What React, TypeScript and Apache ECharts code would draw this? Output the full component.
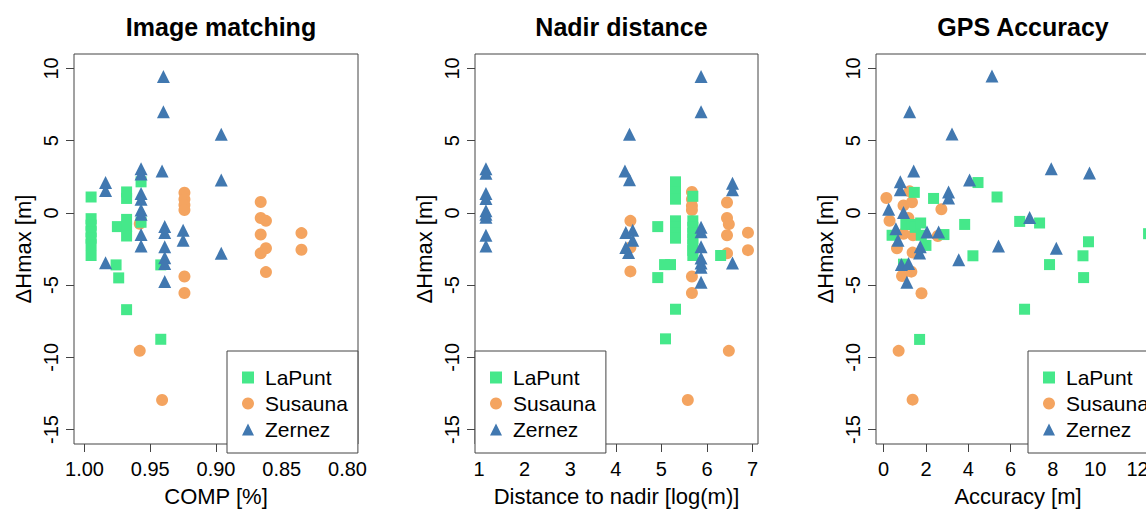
import React, { useEffect, useRef } from "react";
import * as echarts from "echarts";

// ---------- data ----------
const titles = ["Image matching", "Nadir distance", "GPS Accuracy"];
const xNames = ["COMP [%]", "Distance to nadir [log(m)]", "Accuracy [m]"];
const yName = "ΔHmax [m]";
const seriesNames = ["LaPunt", "Susauna", "Zernez"];

const yTicks = [-15, -10, -5, 0, 5, 10];
const xTicks1 = [0.8, 0.85, 0.9, 0.95, 1.0];
const xTicks2 = [1, 2, 3, 4, 5, 6, 7];
const xTicks3 = [0, 2, 4, 6, 8, 10, 12];

// Panel 1: COMP
const laPunt1 = [
  [0.995, 1.1], [0.995, -0.4], [0.995, -0.85], [0.995, -1.3], [0.995, -1.75], [0.995, -2.2], [0.995, -2.95],
  [0.975, -0.95], [0.976, -3.6], [0.974, -4.5],
  [0.968, 1.45], [0.968, 1.0], [0.968, -0.45], [0.968, -0.95], [0.968, -1.6], [0.968, -6.7],
  [0.957, 2.15], [0.957, -0.65],
  [0.942, -3.6], [0.942, -8.75],
];
const susauna1 = [
  [0.924, 1.4], [0.924, 0.95], [0.924, 0.55], [0.924, 0.2], [0.924, -4.4], [0.924, -5.55],
  [0.958, -0.75], [0.958, -9.55], [0.941, -12.95],
  [0.866, 0.75], [0.866, -0.35], [0.862, -0.55], [0.866, -1.5], [0.866, -2.8], [0.862, -2.45], [0.862, -4.1],
  [0.835, -1.4], [0.835, -2.55],
];
const zernez1 = [
  [0.984, 2.1], [0.984, 1.55], [0.984, -3.45],
  [0.957, 3.05], [0.957, 2.7], [0.957, 1.35], [0.957, 0.95], [0.957, 0.2], [0.957, -0.1], [0.957, -1.5], [0.957, -2.3],
  [0.94, 9.45], [0.94, 7.0], [0.941, 2.9], [0.939, -0.95], [0.939, -1.35], [0.939, -2.35], [0.939, -3.1], [0.939, -3.5], [0.939, -4.75],
  [0.925, -1.2], [0.925, -1.9],
  [0.896, 5.45], [0.896, 2.27], [0.896, -2.8],
];

// Panel 2: nadir distance
const laPunt2 = [
  [4.92, -0.95], [4.92, -4.48], [5.07, -3.58], [5.2, -3.58],
  [5.31, 2.15], [5.31, 1.45], [5.31, 0.95], [5.31, -0.55], [5.31, -1.0], [5.31, -1.4], [5.31, -1.75], [5.31, -6.67],
  [5.09, -8.72],
  [5.69, 1.15], [5.69, -0.55], [5.69, -1.0], [5.69, -1.4], [5.69, -1.8], [5.69, -2.2], [5.69, -2.6], [5.69, -2.95],
  [6.3, -2.95],
];
const susauna2 = [
  [4.32, -0.55], [4.32, -2.4], [4.32, -4.05],
  [5.67, 1.45], [5.67, 0.95], [5.67, 0.5], [5.67, 0.2], [5.67, -4.4], [5.67, -5.55],
  [5.58, -12.95], [6.48, -9.55],
  [6.44, 0.72], [6.44, -0.35], [6.48, -0.78], [6.44, -1.55], [6.44, -2.8],
  [6.9, -1.37], [6.9, -2.58],
];
const zernez2 = [
  [1.15, 3.05], [1.15, 2.75], [1.15, 1.35], [1.15, 1.0], [1.15, 0.15], [1.15, -0.1], [1.15, -0.3], [1.15, -1.55], [1.15, -2.3],
  [4.3, 5.45], [4.2, 2.9], [4.3, 2.3],
  [4.22, -1.35], [4.37, -1.2], [4.37, -1.9], [4.22, -2.4], [4.28, -2.75],
  [5.87, 9.45], [5.87, 7.0], [5.87, -0.99], [5.87, -1.3], [5.87, -2.34], [5.87, -3.13], [5.87, -3.47], [5.87, -3.76], [5.87, -4.8],
  [6.56, 2.05], [6.56, 1.6], [6.56, -3.47],
];

// Panel 3: GPS accuracy
const laPunt3 = [
  [0.4, -1.55], [0.94, -3.55], [1.05, -0.8], [1.35, -0.8], [1.5, -1.0], [1.45, 1.42], [1.75, -0.7],
  [1.78, -1.55], [2.0, -2.25], [1.7, -8.76], [2.36, 1.0], [2.85, -1.5], [3.83, -0.8], [4.22, -2.97],
  [4.46, 2.1], [5.36, 1.1], [6.43, -0.59], [6.66, -6.67], [7.37, -0.7], [7.84, -3.58], [9.42, -2.97],
  [9.45, -4.48], [9.68, -2.0], [12.52, -1.44],
];
const susauna3 = [
  [0.13, 1.03], [0.28, -0.54], [0.63, -2.45], [0.71, -9.55], [0.87, -4.37], [0.94, 0.52], [0.94, -1.44],
  [1.23, 1.49], [1.17, -0.35], [1.34, 0.74], [1.39, -1.55], [1.37, -2.75], [1.31, -4.07], [1.37, -12.93],
  [1.79, -5.56], [2.73, 0.25], [2.56, -1.6],
];
const zernez3 = [
  [0.24, 0.25], [0.79, 2.16], [0.79, 1.6], [0.94, 0.02], [0.58, -1.1], [0.68, -1.9], [0.84, -3.58],
  [1.18, -3.5], [1.1, -4.8], [1.23, 7.0], [1.42, 2.9], [1.73, -2.34], [1.7, -2.77], [2.05, -1.33],
  [2.6, -1.33], [3.07, 1.45], [3.07, 1.03], [3.23, 5.47], [3.55, -3.24], [4.06, 2.27], [5.12, 9.48],
  [5.43, -2.3], [6.9, -0.32], [7.92, 3.06], [8.16, -2.45], [9.73, 2.77],
];

// ---------- styles ----------
const FONT = '"Liberation Sans", Arial, Helvetica, sans-serif';
const COLORS = ["#45E88A", "#F4A460", "#4178B0"];
const SYMBOLS = ["rect", "circle", "triangle"];
const SIZES = [11, 12, 13];
const AXIS_COLOR = "#444";

const grids = [
  { left: 74, top: 54, width: 284, height: 399 },
  { left: 475, top: 54, width: 283, height: 399 },
  { left: 876, top: 54, width: 284, height: 399 },
];
const xRanges = [
  { min: 0.792, max: 1.008, inverse: true, ticks: xTicks1, fmt: (v: number) => v.toFixed(2) },
  { min: 0.91, max: 7.12, inverse: false, ticks: xTicks2, fmt: (v: number) => String(v) },
  { min: -0.36, max: 13.06, inverse: false, ticks: xTicks3, fmt: (v: number) => String(v) },
];
const panelData = [
  [laPunt1, susauna1, zernez1],
  [laPunt2, susauna2, zernez2],
  [laPunt3, susauna3, zernez3],
];

export default function App() {
  const ref = useRef<HTMLDivElement>(null);

  useEffect(() => {
    if (!ref.current) return;
    const chart = echarts.init(ref.current, null, { renderer: "svg" });

    const xAxis = xRanges.map((r, i) => ({
      type: "value",
      gridIndex: i,
      position: "bottom",
      min: r.min,
      max: r.max,
      inverse: r.inverse,
      name: xNames[i],
      nameLocation: "middle",
      nameGap: 41,
      nameTextStyle: { fontSize: 22, color: "#000", fontFamily: FONT },
      axisLine: { show: false, onZero: false },
      axisTick: { show: true, length: 8, customValues: r.ticks, lineStyle: { color: AXIS_COLOR } },
      axisLabel: {
        customValues: r.ticks,
        formatter: r.fmt,
        fontSize: 20,
        color: "#000",
        fontFamily: FONT,
        margin: 15,
      },
      splitLine: { show: false },
    }));

    const yAxis = grids.map((_, i) => ({
      type: "value",
      gridIndex: i,
      position: "left",
      min: -16,
      max: 11,
      name: yName,
      nameLocation: "middle",
      nameRotate: 90,
      nameGap: 40,
      nameTextStyle: { fontSize: 22, color: "#000", fontFamily: FONT },
      axisLine: { show: false, onZero: false },
      axisTick: { show: true, length: 8, customValues: yTicks, lineStyle: { color: AXIS_COLOR } },
      axisLabel: {
        customValues: yTicks,
        rotate: 90,
        fontSize: 20,
        color: "#000",
        fontFamily: FONT,
        margin: 13,
      },
      splitLine: { show: false },
    }));

    const series: any[] = [];
    const order = [1, 0, 2];
    panelData.forEach((sets, p) => {
      order.forEach((k) => {
        series.push({
          type: "scatter",
          name: seriesNames[k],
          data: sets[k],
          xAxisIndex: p,
          yAxisIndex: p,
          symbol: SYMBOLS[k],
          symbolSize: SIZES[k],
          itemStyle: { color: COLORS[k], opacity: 1 },
          emphasis: { disabled: true },
        });
      });
    });

    const legendLefts = [227, 475, 1028];
    const legend = legendLefts.map((l) => ({
      left: l,
      top: 351,
      orient: "vertical",
      data: seriesNames.map((n, k) => ({ name: n, icon: SYMBOLS[k] })),
      itemWidth: 12,
      itemHeight: 12,
      itemGap: 5,
      padding: [16, 10, 13, 15],
      borderColor: AXIS_COLOR,
      borderWidth: 1,
      borderRadius: 0,
      backgroundColor: "#fff",
      selectedMode: false,
      textStyle: { fontSize: 21, color: "#000", fontFamily: FONT, padding: [0, 0, 0, 6] },
    }));

    const titleCenters = [216, 616.5, 1018];
    const title = titles.map((t, i) => ({
      text: t,
      left: titleCenters[i],
      top: 9,
      textAlign: "center",
      textStyle: { fontSize: 25, fontWeight: "bold", color: "#000", fontFamily: FONT },
    }));

    chart.setOption({
      animation: false,
      backgroundColor: "#fff",
      title,
      legend,
      grid: grids.map((g) => ({ ...g, show: true, borderColor: AXIS_COLOR, borderWidth: 1, backgroundColor: "transparent" })),
      xAxis,
      yAxis,
      series,
    });

    return () => chart.dispose();
  }, []);

  return (
    <div
      style={{
        position: "fixed",
        left: 0,
        top: 0,
        width: 1146,
        height: 512,
        overflow: "hidden",
        background: "#fff",
      }}
    >
      <div ref={ref} style={{ width: 1190, height: 512 }} />
    </div>
  );
}
